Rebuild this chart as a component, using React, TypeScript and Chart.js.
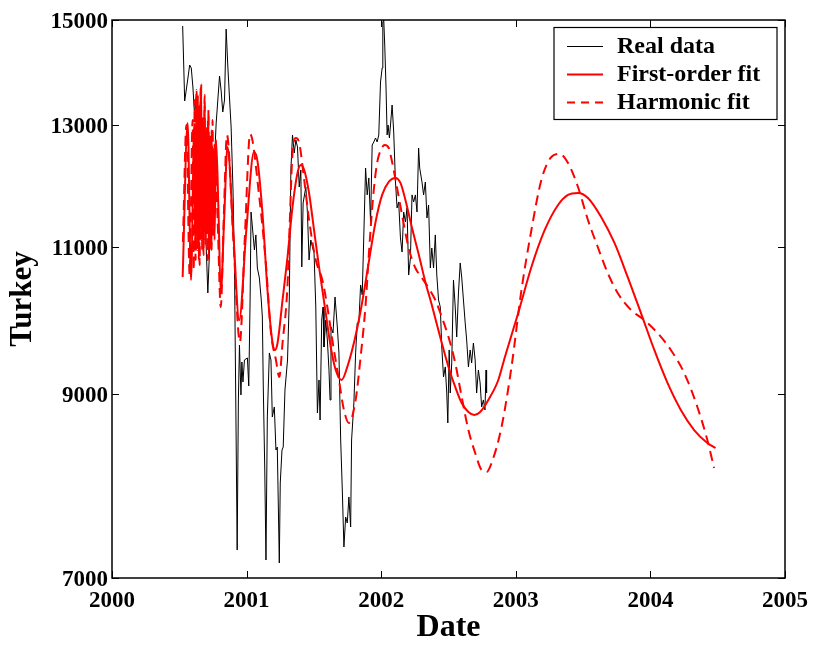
import { useEffect, useRef } from "react"
import { Chart, registerables } from "chart.js"

Chart.register(...registerables)

const FONT = '"Liberation Serif", "Times New Roman", serif'

const xTicks = [2000, 2001, 2002, 2003, 2004, 2005]
const yTicks = [7000, 9000, 11000, 13000, 15000]
const seriesNames = ["Real data", "First-order fit", "Harmonic fit"]

// [date (decimal year), index value]
const realData: [number, number][] = [
  [2000.525, 14878], [2000.54, 13429], [2000.56, 13782], [2000.577, 14105], [2000.589, 14048],
  [2000.601, 13688], [2000.614, 13157], [2000.626, 13558], [2000.638, 13265], [2000.651, 13085],
  [2000.666, 12560], [2000.68, 12056], [2000.695, 11260], [2000.712, 10332], [2000.725, 10971],
  [2000.749, 11812], [2000.774, 13032], [2000.799, 13896], [2000.811, 13614], [2000.823, 13229],
  [2000.836, 13447], [2000.848, 14816], [2000.86, 14105], [2000.873, 13484], [2000.885, 12961],
  [2000.899, 11892], [2000.91, 10705], [2000.921, 8686], [2000.93, 7273], [2000.939, 8927],
  [2000.947, 9623], [2000.958, 8988], [2000.965, 9402], [2000.973, 9149], [2000.984, 9428],
  [2001.006, 9454], [2001.016, 9099], [2001.026, 10233], [2001.033, 11540], [2001.045, 11260],
  [2001.058, 10956], [2001.069, 11184], [2001.08, 10690], [2001.095, 10545], [2001.109, 10233],
  [2001.117, 9998], [2001.124, 9087], [2001.135, 8113], [2001.144, 7174], [2001.154, 8722],
  [2001.169, 9519], [2001.181, 9428], [2001.191, 8722], [2001.206, 8842], [2001.218, 8337],
  [2001.228, 8371], [2001.235, 7787], [2001.243, 7145], [2001.25, 7970], [2001.263, 8337],
  [2001.272, 8371], [2001.285, 9049], [2001.304, 9428], [2001.317, 10233], [2001.329, 12221],
  [2001.341, 12820], [2001.354, 12509], [2001.366, 12732], [2001.378, 12612], [2001.391, 11941],
  [2001.403, 12221], [2001.41, 10705], [2001.42, 11683], [2001.44, 11941], [2001.452, 11525],
  [2001.464, 10808], [2001.477, 11107], [2001.489, 11001], [2001.501, 10912], [2001.514, 10136],
  [2001.526, 8770], [2001.538, 9174], [2001.546, 8686], [2001.558, 9957], [2001.568, 10136],
  [2001.575, 9597], [2001.588, 9957], [2001.6, 9689], [2001.612, 9300], [2001.62, 8927],
  [2001.627, 9863], [2001.642, 9782], [2001.657, 10275], [2001.674, 9863], [2001.686, 9519],
  [2001.699, 8452], [2001.711, 7894], [2001.723, 7303], [2001.736, 7608], [2001.748, 7546],
  [2001.76, 7819], [2001.773, 7505], [2001.78, 8452], [2001.797, 8891], [2001.81, 9519],
  [2001.822, 9917], [2001.834, 9917], [2001.847, 10445], [2001.859, 10304], [2001.884, 12254],
  [2001.896, 11812], [2001.908, 12089], [2001.921, 11384], [2001.933, 12646], [2001.945, 12698],
  [2001.958, 12767], [2001.97, 12698], [2001.982, 12820], [2001.995, 13782], [2002.007, 14048],
  [2002.012, 14959], [2002.019, 15000], [2002.027, 14438], [2002.036, 13670], [2002.044, 12820],
  [2002.051, 12996], [2002.061, 12767], [2002.069, 12996], [2002.081, 13356], [2002.093, 12873],
  [2002.106, 12023], [2002.118, 11604], [2002.13, 11699], [2002.143, 11138], [2002.155, 10926],
  [2002.167, 11540], [2002.18, 11384], [2002.192, 11604], [2002.204, 10588], [2002.217, 10837],
  [2002.229, 11812], [2002.241, 11699], [2002.254, 11812], [2002.266, 11540], [2002.278, 12594],
  [2002.286, 12254], [2002.303, 12023], [2002.315, 11812], [2002.328, 12023], [2002.34, 11446],
  [2002.352, 11651], [2002.365, 10690], [2002.376, 10986], [2002.389, 10690], [2002.402, 11184],
  [2002.413, 10588], [2002.426, 10233], [2002.439, 10136], [2002.45, 9597], [2002.463, 9212],
  [2002.476, 9339], [2002.487, 9012], [2002.495, 8651], [2002.505, 9558], [2002.513, 9012],
  [2002.524, 9390], [2002.537, 10516], [2002.55, 10136], [2002.561, 9729], [2002.574, 10332],
  [2002.587, 10764], [2002.598, 10559], [2002.611, 10233], [2002.624, 9917], [2002.635, 9689],
  [2002.648, 9339], [2002.661, 9558], [2002.672, 9390], [2002.685, 9649], [2002.698, 9428],
  [2002.709, 9012], [2002.722, 9300], [2002.735, 9137], [2002.746, 8842], [2002.759, 8927],
  [2002.771, 8806], [2002.779, 9300], [2002.783, 9012],
]

const firstOrderFit: [number, number][] = [
  [2000.525, 10560], [2000.562, 13032], [2000.587, 10516], [2000.612, 13032], [2000.618, 10956],
  [2000.625, 13265], [2000.632, 11107], [2000.638, 13540], [2000.645, 10808], [2000.651, 13356],
  [2000.658, 11260], [2000.663, 13745], [2000.669, 10956], [2000.675, 13085], [2000.682, 11245],
  [2000.688, 13356], [2000.695, 11032], [2000.7, 12908], [2000.706, 11245], [2000.712, 13085],
  [2000.719, 10808], [2000.725, 12732], [2000.732, 10971], [2000.74, 12908], [2000.747, 11260],
  [2000.754, 12560], [2000.762, 11107], [2000.773, 12732], [2000.791, 11572], [2000.808, 10332],
  [2000.833, 11415], [2000.858, 12612], [2000.902, 11184], [2000.945, 9957], [2000.998, 11260],
  [2001.055, 12525], [2001.082, 12355], [2001.119, 11493], [2001.156, 10346], [2001.193, 9649],
  [2001.211, 9558], [2001.23, 9649], [2001.267, 10233], [2001.304, 10852], [2001.341, 11620],
  [2001.378, 12171], [2001.403, 12305], [2001.428, 12221], [2001.464, 11843], [2001.501, 11260],
  [2001.538, 10705], [2001.588, 10052], [2001.625, 9597], [2001.662, 9300], [2001.706, 9174],
  [2001.748, 9339], [2001.797, 9649], [2001.834, 9957], [2001.859, 10205], [2001.908, 10779],
  [2001.958, 11384], [2002.007, 11812], [2002.056, 12023], [2002.106, 12089], [2002.143, 12007],
  [2002.18, 11731], [2002.229, 11291], [2002.278, 10897], [2002.328, 10488], [2002.376, 10164],
  [2002.45, 9649], [2002.5, 9339], [2002.55, 9087], [2002.598, 8891], [2002.648, 8782],
  [2002.692, 8746], [2002.735, 8782], [2002.796, 8927], [2002.87, 9174], [2002.919, 9467],
  [2003.018, 10052], [2003.116, 10705], [2003.215, 11260], [2003.314, 11651], [2003.388, 11812],
  [2003.462, 11843], [2003.536, 11763], [2003.634, 11462], [2003.733, 11062], [2003.831, 10560],
  [2003.93, 10052], [2004.029, 9558], [2004.127, 9137], [2004.226, 8806], [2004.325, 8568],
  [2004.423, 8418], [2004.484, 8360],
]

const harmonicFit: [number, number][] = [
  [2000.527, 11077], [2000.553, 12996], [2000.577, 10588], [2000.599, 13085], [2000.607, 10661],
  [2000.614, 13447], [2000.621, 10808], [2000.629, 13632], [2000.636, 10956], [2000.643, 13265],
  [2000.651, 10735], [2000.658, 13670], [2000.666, 11107], [2000.673, 13175], [2000.68, 10882],
  [2000.688, 13540], [2000.695, 11107], [2000.703, 12996], [2000.71, 10808], [2000.717, 13265],
  [2000.725, 11032], [2000.732, 12820], [2000.74, 10956], [2000.747, 13085], [2000.754, 11184],
  [2000.762, 12646], [2000.785, 11400], [2000.808, 10136], [2000.831, 11500], [2000.854, 12820],
  [2000.902, 11100], [2000.95, 9663], [2000.988, 11200], [2001.026, 12838], [2001.095, 11763],
  [2001.144, 10735], [2001.181, 9782], [2001.218, 9428], [2001.243, 9212], [2001.267, 9649],
  [2001.304, 10445], [2001.32, 11338], [2001.341, 12509], [2001.366, 12767], [2001.391, 12680],
  [2001.428, 12056], [2001.464, 11415], [2001.514, 10808], [2001.563, 10516], [2001.6, 10136],
  [2001.637, 9689], [2001.686, 9174], [2001.723, 8806], [2001.76, 8651], [2001.81, 8927],
  [2001.847, 9467], [2001.884, 10164], [2001.908, 10882], [2001.938, 11731], [2001.967, 12305],
  [2001.997, 12560], [2002.027, 12646], [2002.056, 12594], [2002.081, 12355], [2002.118, 11925],
  [2002.155, 11493], [2002.204, 10986], [2002.254, 10690], [2002.303, 10545], [2002.352, 10403],
  [2002.402, 10233], [2002.45, 9998], [2002.5, 9729], [2002.55, 9390], [2002.598, 8963],
  [2002.648, 8568], [2002.698, 8304], [2002.746, 8113], [2002.783, 8091], [2002.82, 8191],
  [2002.894, 8604], [2002.968, 9339], [2003.042, 10374], [2003.116, 11260], [2003.19, 12056],
  [2003.264, 12440], [2003.326, 12492], [2003.388, 12338], [2003.462, 11941], [2003.536, 11415],
  [2003.609, 11001], [2003.683, 10617], [2003.757, 10332], [2003.856, 10094], [2003.955, 9957],
  [2004.053, 9782], [2004.152, 9558], [2004.251, 9262], [2004.349, 8842], [2004.423, 8452],
  [2004.473, 8135],
]

const toPoints = (d: [number, number][]) => d.map(([x, y]) => ({ x, y }))

const legendStyles = [
  { color: "#000000", width: 1, dash: [] as number[] },
  { color: "#ff0000", width: 2, dash: [] as number[] },
  { color: "#ff0000", width: 2, dash: [8, 6] },
]

// box frame, inward ticks on all four sides and the boxed legend
const framePlugin = {
  id: "frame",
  afterDatasetsDraw(chart: Chart) {
    const { ctx, chartArea: a, scales } = chart
    ctx.save()
    ctx.strokeStyle = "#000"
    ctx.lineWidth = 1
    ctx.setLineDash([])
    ctx.beginPath()
    for (const v of xTicks) {
      const px = Math.round(scales.x.getPixelForValue(v)) + 0.5
      ctx.moveTo(px, a.bottom)
      ctx.lineTo(px, a.bottom - 7)
      ctx.moveTo(px, a.top)
      ctx.lineTo(px, a.top + 7)
    }
    for (const v of yTicks) {
      const py = Math.round(scales.y.getPixelForValue(v)) + 0.5
      ctx.moveTo(a.left, py)
      ctx.lineTo(a.left + 7, py)
      ctx.moveTo(a.right, py)
      ctx.lineTo(a.right - 7, py)
    }
    ctx.stroke()
    ctx.lineWidth = 1.5
    ctx.strokeRect(a.left, a.top, a.right - a.left, a.bottom - a.top)

    const bx = a.right - 231
    const by = a.top + 7.5
    ctx.fillStyle = "#fff"
    ctx.fillRect(bx, by, 223, 92)
    ctx.lineWidth = 1.2
    ctx.strokeRect(bx, by, 223, 92)

    ctx.font = `bold 24px ${FONT}`
    ctx.textBaseline = "middle"
    ctx.textAlign = "left"
    seriesNames.forEach((name, i) => {
      const cy = by + 19 + i * 28
      const s = legendStyles[i]
      ctx.strokeStyle = s.color
      ctx.lineWidth = s.width
      ctx.setLineDash(s.dash)
      ctx.beginPath()
      ctx.moveTo(bx + 13, cy)
      ctx.lineTo(bx + 49, cy)
      ctx.stroke()
      ctx.setLineDash([])
      ctx.fillStyle = "#000"
      ctx.fillText(name, bx + 63, cy)
    })
    ctx.restore()
  },
}

export default function App() {
  const canvasRef = useRef<HTMLCanvasElement>(null)
  const chartRef = useRef<Chart | null>(null)

  useEffect(() => {
    if (!canvasRef.current) return
    if (chartRef.current) chartRef.current.destroy()

    const tickFont = { family: FONT, size: 23, weight: "bold" as const }

    chartRef.current = new Chart(canvasRef.current, {
      type: "line",
      data: {
        datasets: [
          {
            label: seriesNames[0],
            data: toPoints(realData),
            borderColor: "#000000",
            borderWidth: 1,
            tension: 0,
            order: 2,
          },
          {
            label: seriesNames[1],
            data: toPoints(firstOrderFit),
            borderColor: "#ff0000",
            borderWidth: 2,
            cubicInterpolationMode: "monotone",
            order: 1,
          },
          {
            label: seriesNames[2],
            data: toPoints(harmonicFit),
            borderColor: "#ff0000",
            borderWidth: 2,
            borderDash: [10, 6],
            cubicInterpolationMode: "monotone",
            order: 0,
          },
        ],
      },
      options: {
        responsive: false,
        animation: false,
        layout: { padding: { top: 20, right: 29, left: 0, bottom: 0 } },
        elements: { point: { radius: 0, hoverRadius: 0 } },
        plugins: {
          legend: { display: false },
          tooltip: { enabled: false },
        },
        scales: {
          x: {
            type: "linear",
            min: 2000,
            max: 2005,
            afterBuildTicks: (s: any) => {
              s.ticks = xTicks.map((v) => ({ value: v }))
            },
            afterFit: (s: any) => {
              s.height = 76
            },
            grid: { display: false, drawTicks: false },
            border: { display: false },
            ticks: {
              color: "#000",
              font: tickFont,
              padding: 9,
              maxRotation: 0,
              callback: (v: any) => String(v),
            },
            title: {
              display: true,
              text: "Date",
              color: "#000",
              font: { family: FONT, size: 32, weight: "bold" },
              padding: { top: 0, bottom: 7 },
            },
          },
          y: {
            type: "logarithmic",
            min: 7000,
            max: 15000,
            afterBuildTicks: (s: any) => {
              s.ticks = yTicks.map((v) => ({ value: v }))
            },
            afterFit: (s: any) => {
              s.width = 112
            },
            grid: { display: false, drawTicks: false },
            border: { display: false },
            ticks: {
              color: "#000",
              font: tickFont,
              padding: 4,
              labelOffset: 2,
              callback: (v: any) => String(v),
            },
            title: {
              display: true,
              text: "Turkey",
              color: "#000",
              font: { family: FONT, size: 31, weight: "bold" },
              padding: { top: 4, bottom: 0 },
            },
          },
        },
      },
      plugins: [framePlugin],
    } as any)

    return () => {
      if (chartRef.current) {
        chartRef.current.destroy()
        chartRef.current = null
      }
    }
  }, [])

  return (
    <div style={{ position: "absolute", left: 0, top: 0, width: 817, height: 654, background: "#fff" }}>
      <canvas ref={canvasRef} width={817} height={654}></canvas>
    </div>
  )
}
